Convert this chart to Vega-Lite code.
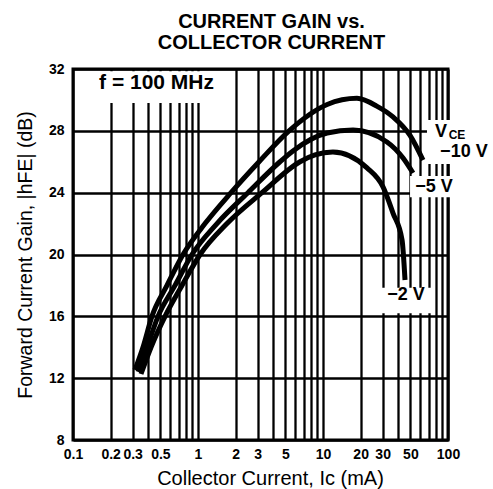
{
  "$schema": "https://vega.github.io/schema/vega-lite/v6.json",
  "width": 375,
  "height": 371,
  "autosize": {"type": "none"},
  "padding": {"left": 73, "top": 69, "right": 45, "bottom": 49},
  "background": "white",
  "config": {
    "view": {"stroke": "black", "strokeWidth": 3},
    "font": "Liberation Sans"
  },
  "title": {
    "text": ["CURRENT GAIN vs.", "COLLECTOR CURRENT"],
    "font": "Liberation Sans",
    "fontSize": 20,
    "fontWeight": "bold",
    "color": "black",
    "anchor": "middle",
    "dx": 11,
    "offset": 9,
    "lineHeight": 21
  },
  "datasets": {
    "curves": [
      {"vce": "-10 V", "current": 0.313, "gain": 12.53},
      {"vce": "-10 V", "current": 0.363, "gain": 14.0},
      {"vce": "-10 V", "current": 0.428, "gain": 16.0},
      {"vce": "-10 V", "current": 0.565, "gain": 18.0},
      {"vce": "-10 V", "current": 0.759, "gain": 20.0},
      {"vce": "-10 V", "current": 1.138, "gain": 22.0},
      {"vce": "-10 V", "current": 1.837, "gain": 24.0},
      {"vce": "-10 V", "current": 3.08, "gain": 26.0},
      {"vce": "-10 V", "current": 5.35, "gain": 28.0},
      {"vce": "-10 V", "current": 10.8, "gain": 29.7},
      {"vce": "-10 V", "current": 18.7, "gain": 30.1},
      {"vce": "-10 V", "current": 26.9, "gain": 29.6},
      {"vce": "-10 V", "current": 36.3, "gain": 28.9},
      {"vce": "-10 V", "current": 49.7, "gain": 27.7},
      {"vce": "-10 V", "current": 63.1, "gain": 26.1},
      {"vce": "-5 V", "current": 0.331, "gain": 12.4},
      {"vce": "-5 V", "current": 0.391, "gain": 14.0},
      {"vce": "-5 V", "current": 0.479, "gain": 16.0},
      {"vce": "-5 V", "current": 0.655, "gain": 18.0},
      {"vce": "-5 V", "current": 0.895, "gain": 20.0},
      {"vce": "-5 V", "current": 1.419, "gain": 22.0},
      {"vce": "-5 V", "current": 2.51, "gain": 24.0},
      {"vce": "-5 V", "current": 4.53, "gain": 26.0},
      {"vce": "-5 V", "current": 5.75, "gain": 26.7},
      {"vce": "-5 V", "current": 10.8, "gain": 27.86},
      {"vce": "-5 V", "current": 17.4, "gain": 28.05},
      {"vce": "-5 V", "current": 32.5, "gain": 27.28},
      {"vce": "-5 V", "current": 43.7, "gain": 26.24},
      {"vce": "-5 V", "current": 52.5, "gain": 25.27},
      {"vce": "-2 V", "current": 0.35, "gain": 12.27},
      {"vce": "-2 V", "current": 0.421, "gain": 14.0},
      {"vce": "-2 V", "current": 0.545, "gain": 16.0},
      {"vce": "-2 V", "current": 0.745, "gain": 18.0},
      {"vce": "-2 V", "current": 1.04, "gain": 20.0},
      {"vce": "-2 V", "current": 1.706, "gain": 22.0},
      {"vce": "-2 V", "current": 3.25, "gain": 24.0},
      {"vce": "-2 V", "current": 6.55, "gain": 26.0},
      {"vce": "-2 V", "current": 8.63, "gain": 26.44},
      {"vce": "-2 V", "current": 12.0, "gain": 26.63},
      {"vce": "-2 V", "current": 22.5, "gain": 25.6},
      {"vce": "-2 V", "current": 30.2, "gain": 24.37},
      {"vce": "-2 V", "current": 36.3, "gain": 22.68},
      {"vce": "-2 V", "current": 42.9, "gain": 20.94},
      {"vce": "-2 V", "current": 45.3, "gain": 18.35}
    ],
    "boxes": [
      {"box": "freq", "x0": 0.132, "x1": 1.8, "y0": 29.8, "y1": 31.85},
      {"box": "vce10", "x0": 67.9, "x1": 400, "y0": 25.85, "y1": 28.7},
      {"box": "vce5", "x0": 49.7, "x1": 124.7, "y0": 23.7, "y1": 25.08},
      {"box": "vce2", "x0": 27.5, "x1": 74.5, "y0": 16.2, "y1": 17.85}
    ],
    "labels": [
      {"label": "f = 100 MHz", "x": 0.466, "y": 31.09, "kind": "freq"},
      {"label": "V", "x": 88, "y": 27.9, "kind": "big"},
      {"label": "CE", "x": 118, "y": 27.75, "kind": "small"},
      {"label": "−10 V", "x": 134, "y": 26.62, "kind": "big"},
      {"label": "−5 V", "x": 77.3, "y": 24.36, "kind": "big"},
      {"label": "−2 V", "x": 46.1, "y": 17.38, "kind": "big"}
    ]
  },
  "layer": [
    {
      "data": {"name": "boxes"},
      "mark": {"type": "rect", "fill": "white"},
      "encoding": {
        "x": {
          "field": "x0",
          "type": "quantitative",
          "scale": {"type": "log", "domain": [0.1, 100], "nice": false},
          "axis": {
            "values": [0.1, 0.2, 0.3, 0.4, 0.5, 0.6, 0.7, 0.8, 0.9, 1, 2, 3, 4, 5, 6, 7, 8, 9, 10, 20, 30, 40, 50, 60, 70, 80, 90, 100],
            "labelExpr": "indexof([0.1, 0.2, 0.3, 0.5, 1, 2, 3, 5, 10, 20, 30, 50, 100], datum.value) >= 0 ? format(datum.value, '~g') : ''",
            "grid": true,
            "gridColor": "black",
            "gridWidth": 2.3,
            "gridOpacity": 1,
            "domain": false,
            "ticks": false,
            "labelFont": "Liberation Sans",
            "labelFontSize": 14,
            "labelFontWeight": "bold",
            "labelColor": "black",
            "labelPadding": 7,
            "labelOverlap": false,
            "labelFlush": false,
            "title": "Collector Current, Ic (mA)",
            "titleFont": "Liberation Sans",
            "titleFontSize": 20,
            "titleFontWeight": "normal",
            "titleColor": "black",
            "titlePadding": 7,
            "titleX": 197
          }
        },
        "x2": {"field": "x1"},
        "y": {
          "field": "y0",
          "type": "quantitative",
          "scale": {"domain": [8, 32], "nice": false, "zero": false},
          "axis": {
            "values": [8, 10, 12, 14, 16, 18, 20, 22, 24, 26, 28, 30, 32],
            "labelExpr": "datum.value % 4 == 0 ? datum.label : ''",
            "grid": true,
            "gridColor": "black",
            "gridWidth": 2.3,
            "gridOpacity": 1,
            "domain": false,
            "ticks": false,
            "labelFont": "Liberation Sans",
            "labelFontSize": 14,
            "labelFontWeight": "bold",
            "labelColor": "black",
            "labelPadding": 9,
            "labelOverlap": false,
            "labelFlush": false,
            "title": "Forward Current Gain, |hFE| (dB)",
            "titleFont": "Liberation Sans",
            "titleFontSize": 19.5,
            "titleFontWeight": "normal",
            "titleColor": "black",
            "titlePadding": 13
          }
        },
        "y2": {"field": "y1"}
      }
    },
    {
      "data": {"name": "curves"},
      "mark": {"type": "line", "interpolate": "monotone", "color": "black", "strokeWidth": 5},
      "encoding": {
        "x": {"field": "current", "type": "quantitative"},
        "y": {"field": "gain", "type": "quantitative"},
        "detail": {"field": "vce", "type": "nominal"}
      }
    },
    {
      "data": {"name": "labels"},
      "transform": [{"filter": "datum.kind == 'freq'"}],
      "mark": {"type": "text", "font": "Liberation Sans", "fontSize": 21, "fontWeight": "bold", "color": "black", "align": "center", "baseline": "middle"},
      "encoding": {
        "x": {"field": "x", "type": "quantitative"},
        "y": {"field": "y", "type": "quantitative"},
        "text": {"field": "label", "type": "nominal"}
      }
    },
    {
      "data": {"name": "labels"},
      "transform": [{"filter": "datum.kind == 'big'"}],
      "mark": {"type": "text", "font": "Liberation Sans", "fontSize": 18, "fontWeight": "bold", "color": "black", "align": "center", "baseline": "middle"},
      "encoding": {
        "x": {"field": "x", "type": "quantitative"},
        "y": {"field": "y", "type": "quantitative"},
        "text": {"field": "label", "type": "nominal"}
      }
    },
    {
      "data": {"name": "labels"},
      "transform": [{"filter": "datum.kind == 'small'"}],
      "mark": {"type": "text", "font": "Liberation Sans", "fontSize": 12, "fontWeight": "bold", "color": "black", "align": "center", "baseline": "middle"},
      "encoding": {
        "x": {"field": "x", "type": "quantitative"},
        "y": {"field": "y", "type": "quantitative"},
        "text": {"field": "label", "type": "nominal"}
      }
    }
  ]
}
